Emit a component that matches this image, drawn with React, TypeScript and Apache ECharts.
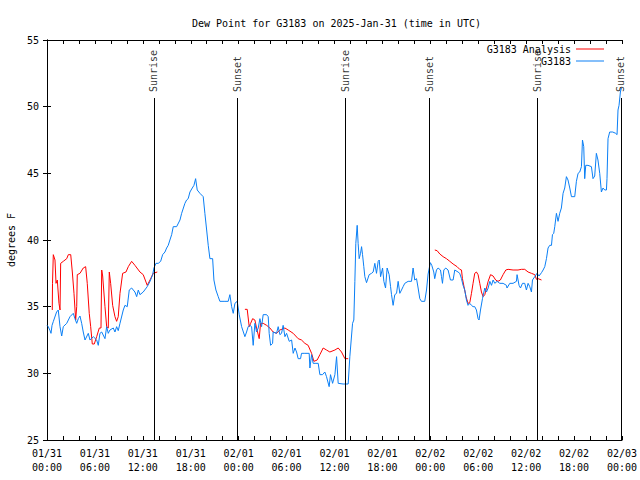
import React, { useEffect, useRef } from "react";
import * as echarts from "echarts";

// Hours since 2025-01-31 00:00 UTC
const blueHours = [
  0.0, 0.16, 0.38, 0.5, 0.63, 0.8, 1.2, 1.41, 1.63, 1.84, 2.04, 2.47, 2.88, 3.29, 3.5, 3.72, 3.92, 4.13, 4.34, 4.54,
  4.76, 5.17, 5.38, 5.8, 6.22, 6.42, 6.63, 6.85, 7.26, 7.47, 7.67, 7.88, 8.3, 8.51, 8.72, 8.92, 9.14, 9.55, 9.76, 10.05,
  10.3, 10.6, 11.01, 11.23, 11.43, 11.64, 12.05, 12.55, 12.9, 13.23, 13.39, 13.64, 13.93, 14.23, 14.48, 14.77, 14.98, 15.18, 15.39, 15.61,
  15.81, 16.23, 16.65, 16.86, 17.27, 17.48, 17.68, 17.9, 18.19, 18.4, 18.61, 18.81, 19.15, 19.56, 19.77, 19.99, 20.19, 20.4, 20.74, 20.9,
  21.15, 21.44, 21.65, 22.28, 22.69, 22.9, 23.12, 23.32, 23.53, 23.82, 24.07, 24.37, 24.78, 24.99, 25.19, 25.41, 25.62, 25.82, 26.03, 26.24,
  26.45, 26.66, 26.87, 27.07, 27.5, 27.7, 27.82, 28.0, 28.25, 28.32, 28.74, 28.95, 29.16, 29.37, 29.57, 29.79, 30.0, 30.33, 30.63, 30.83,
  31.05, 31.25, 31.45, 31.75, 31.87, 32.29, 32.83, 32.92, 33.13, 33.33, 33.67, 33.96, 34.17, 34.5, 34.79, 35.0, 35.33, 35.5, 35.76, 36.05,
  36.26, 36.46, 37.08, 37.71, 37.92, 38.26, 38.42, 38.55, 38.67, 38.84, 38.96, 39.09, 39.26, 39.39, 39.51, 39.67, 39.8, 40.01, 40.34, 40.64,
  40.84, 41.05, 41.26, 41.47, 41.6, 41.77, 42.02, 42.18, 42.39, 42.59, 42.84, 43.02, 43.14, 43.34, 43.55, 43.77, 43.97, 44.18, 44.39, 44.59,
  44.8, 45.22, 45.64, 45.84, 46.05, 46.27, 46.47, 46.68, 46.89, 47.3, 47.52, 47.72, 48.0, 48.18, 48.43, 48.55, 48.77, 48.97, 49.27, 49.4,
  49.52, 49.69, 49.93, 50.22, 50.52, 50.85, 51.06, 51.47, 51.68, 51.9, 52.1, 52.31, 52.52, 52.72, 52.94, 53.15, 53.35, 53.56, 53.77, 53.98,
  54.1, 54.28, 54.53, 54.82, 55.03, 55.24, 55.45, 55.66, 55.86, 56.07, 56.36, 56.7, 57.11, 57.53, 57.6, 57.95, 58.36, 58.78, 58.86, 59.11,
  59.29, 59.54, 59.82, 60.03, 60.24, 60.45, 60.66, 60.79, 61.08, 61.36, 61.61, 61.92, 62.12, 62.33, 62.54, 62.74, 62.95, 63.17, 63.29, 63.45,
  63.58, 63.79, 63.99, 64.2, 64.41, 64.62, 64.83, 65.04, 65.24, 65.46, 65.67, 66.08, 66.29, 66.5, 66.71, 66.92, 67.05, 67.21, 67.33, 67.46,
  67.74, 68.17, 68.37, 68.58, 68.79, 68.99, 69.21, 69.42, 69.62, 69.84, 70.05, 70.12, 70.25, 70.46, 70.84, 71.21, 71.38, 71.5, 71.63, 71.8,
  71.93,
];
const blueValues = [
  33.6, 33.5, 33.2, 33.0, 33.6, 33.9, 34.6, 34.75, 33.5, 32.8, 33.5, 33.75, 34.25, 34.5, 34.1, 33.75, 34.1, 34.3, 33.75, 33.1,
  32.5, 33.0, 32.5, 32.75, 32.5, 32.1, 33.0, 33.1, 32.6, 33.5, 33.0, 33.25, 33.4, 33.1, 33.5, 33.2, 33.75, 34.75, 35.1, 35.0,
  36.25, 36.4, 36.1, 35.75, 36.25, 35.9, 36.1, 36.5, 36.9, 37.4, 37.9, 38.25, 38.25, 38.4, 38.9, 39.1, 39.4, 39.6, 40.0, 40.4,
  41.0, 41.0, 41.5, 42.0, 42.75, 43.0, 43.1, 43.6, 43.9, 44.1, 44.6, 43.75, 43.5, 43.25, 42.0, 40.75, 39.6, 38.6, 38.6, 37.0,
  36.25, 35.75, 35.4, 35.4, 35.4, 35.9, 35.0, 34.5, 35.25, 35.4, 34.4, 33.5, 32.75, 33.1, 33.5, 33.6, 33.5, 32.1, 33.75, 33.1,
  33.4, 34.1, 33.5, 34.4, 34.4, 34.25, 33.0, 32.1, 32.25, 33.1, 33.0, 33.5, 32.9, 33.0, 33.6, 32.75, 33.0, 32.4, 32.5, 31.5,
  31.9, 31.6, 31.1, 31.1, 31.5, 31.5, 31.5, 30.4, 31.4, 30.75, 30.75, 30.75, 29.9, 29.9, 30.1, 29.75, 29.0, 29.9, 29.25, 29.9,
  31.25, 29.25, 29.2, 29.2, 31.25, 33.75, 34.0, 36.9, 39.75, 41.1, 39.75, 38.6, 39.0, 39.5, 38.9, 38.0, 37.25, 36.8, 37.4, 37.5,
  37.6, 38.25, 37.5, 38.4, 38.5, 37.25, 37.9, 36.9, 36.4, 37.9, 37.4, 36.5, 35.9, 35.1, 35.9, 36.0, 36.9, 36.0, 36.25, 36.5,
  36.75, 36.9, 36.9, 37.9, 37.0, 37.1, 36.4, 35.6, 35.4, 35.4, 36.25, 37.45, 38.3, 38.1, 37.6, 37.1, 37.75, 37.9, 37.75, 37.25,
  36.75, 37.75, 37.9, 37.75, 37.0, 37.0, 37.75, 37.6, 37.5, 37.1, 36.6, 36.25, 35.5, 35.1, 35.25, 35.1, 35.0, 35.0, 34.75, 34.1,
  34.0, 34.75, 35.6, 36.4, 36.1, 36.4, 36.9, 36.6, 37.0, 36.75, 36.9, 36.75, 36.75, 36.6, 36.4, 36.75, 36.75, 36.9, 37.4, 36.6,
  36.4, 36.75, 36.75, 36.25, 36.75, 36.5, 36.1, 37.0, 37.25, 37.5, 37.3, 37.55, 37.75, 38.0, 38.6, 39.4, 39.6, 39.6, 40.4, 40.5,
  41.0, 42.0, 41.4, 42.0, 42.4, 43.5, 43.9, 44.75, 44.5, 43.9, 43.25, 43.25, 44.4, 45.0, 45.1, 45.5, 47.5, 47.0, 44.6, 45.6,
  45.6, 45.5, 44.6, 44.8, 46.5, 46.0, 45.0, 43.6, 43.9, 43.75, 43.75, 44.6, 47.6, 48.1, 48.1, 48.0, 47.9, 49.75, 50.1, 51.1,
  51.4,
];

// Analysis series; null marks a gap
const redHours = [
  0.66, 0.69, 0.79, 1.0, 1.13, 1.29, 1.5, 1.63, 1.71, 2.04, 2.47, 2.67, 2.97, 3.17, 3.38, 3.59, 3.72, 3.79, 4.13, 4.54,
  4.84, 5.04, 5.29, 5.47, 5.67, 5.92, 6.22, 6.55, 6.76, 6.85, 6.97, 7.26, 7.47, 7.67, 7.8, 7.97, 8.22, 8.51, 8.72, 8.92,
  9.14, 9.47, 9.89, 10.18, 10.6, 11.01, 11.64, 12.05, 12.55, 12.9, 13.3, 13.81, 19.0,
  24.78, 25.07, 25.32, 25.5, 25.75, 26.03, 26.24, 26.57, 26.74, 27.07, 27.5, 27.91, 28.32, 28.74, 29.16, 29.79, 30.2, 30.83, 31.45, 31.87,
  32.29, 32.7, 33.13, 33.42, 33.83, 34.17, 34.58, 35.0, 35.42, 36.05, 36.46, 36.88, 37.3, 37.71, 43.0,
  48.56, 48.85, 49.19, 49.6, 50.02, 50.44, 50.85, 51.35, 51.68, 51.9, 52.02, 52.25, 52.47, 52.72, 52.94, 53.15, 53.35, 53.56, 53.77, 53.98,
  54.19, 54.4, 54.61, 54.82, 55.03, 55.24, 55.54, 55.86, 56.18, 56.47, 56.77, 57.11, 57.45, 57.74, 58.36, 58.98, 59.41, 59.82, 60.24, 60.66,
  61.08, 61.29, 61.49, 61.92,
];
const redValues = [
  34.75, 36.75, 38.9, 38.5, 36.75, 37.0, 35.25, 34.75, 38.25, 38.4, 38.6, 38.9, 38.9, 37.6, 36.0, 34.0, 35.0, 37.4, 37.5, 37.9,
  38.0, 36.75, 34.5, 33.5, 32.2, 32.2, 32.75, 33.4, 33.4, 37.75, 37.3, 35.0, 33.5, 33.4, 37.6, 36.75, 35.1, 34.25, 33.9, 34.25,
  36.0, 37.5, 37.6, 38.0, 38.4, 38.1, 37.6, 37.4, 36.6, 37.0, 37.5, 37.6, null,
  34.8, 34.8, 33.5, 33.75, 34.1, 34.0, 33.4, 32.6, 33.75, 33.75, 33.6, 33.4, 33.1, 33.0, 33.25, 33.4, 33.25, 33.0, 32.6, 32.5,
  32.25, 32.1, 31.5, 30.9, 31.0, 31.4, 31.9, 31.75, 31.6, 31.75, 31.9, 31.6, 31.1, 31.1, null,
  39.25, 39.2, 38.95, 38.75, 38.6, 38.4, 38.2, 38.0, 37.8, 37.75, 37.1, 36.4, 35.75, 35.25, 35.3, 36.0, 36.75, 37.5, 37.6, 37.4,
  36.75, 36.1, 35.75, 35.9, 36.4, 36.9, 37.4, 37.3, 37.0, 36.9, 37.0, 37.4, 37.75, 37.8, 37.75, 37.75, 37.8, 37.8, 37.6, 37.5,
  37.4, 37.05, 37.1, 37.0,
];

const sunHours = [13.38, 23.82, 37.37, 47.85, 61.36, 71.85];
const sunLabels = ["Sunrise", "Sunset", "Sunrise", "Sunset", "Sunrise", "Sunset"];

const tickDays = ["01/31", "02/01", "02/02", "02/03"];

const FONT = "DejaVu Sans Mono";

export default function App() {
  const ref = useRef<HTMLDivElement>(null);
  useEffect(() => {
    if (!ref.current) return;
    const chart = echarts.init(ref.current, undefined, { renderer: "svg" });
    const pad = (n: number) => (n < 10 ? "0" + n : "" + n);
    const blueData = blueHours.map((h, i) => [h, blueValues[i]]);
    const redData = redHours.map((h, i) => [h, redValues[i]]);
    const axisCommon = {
      min: 0,
      max: 72,
      interval: 2,
      axisLine: { show: true, lineStyle: { color: "#000", width: 1 } },
      axisTick: { show: true, inside: true, length: 4, lineStyle: { color: "#000" } },
      splitLine: { show: false },
    };
    const yCommon = {
      min: 25,
      max: 55,
      interval: 5,
      axisLine: { show: true, lineStyle: { color: "#000", width: 1 } },
      axisTick: { show: true, inside: true, length: 4, lineStyle: { color: "#000" } },
      splitLine: { show: false },
    };
    chart.setOption({
      animation: false,
      backgroundColor: "#fff",
      textStyle: { fontFamily: FONT },
      title: {
        text: "Dew Point for G3183 on 2025-Jan-31 (time in UTC)",
        left: 187,
        top: 13,
        textStyle: { fontFamily: FONT, fontSize: 10, fontWeight: "normal", color: "#000" },
      },
      legend: {
        data: ["G3183 Analysis", "G3183"],
        orient: "vertical",
        right: 31,
        top: 38,
        align: "right",
        icon: "rect",
        itemWidth: 28,
        itemHeight: 1,
        itemGap: 0,
        textStyle: { fontFamily: FONT, fontSize: 10, color: "#000", lineHeight: 12 },
      },
      grid: { left: 47, right: 18, top: 40, bottom: 40, containLabel: false, outerBoundsMode: "none" },
      xAxis: [
        {
          type: "value",
          position: "bottom",
          ...axisCommon,
          axisLabel: {
            show: true,
            margin: 6,
            fontFamily: FONT,
            fontSize: 10,
            color: "#000",
            lineHeight: 14,
            formatter: (v: number) => {
              if (Math.round(v) % 6 !== 0) return "";
              const d = Math.floor(v / 24);
              const hh = Math.round(v - d * 24);
              return tickDays[d] + "\n" + pad(hh) + ":00";
            },
          },
        },
        {
          type: "value",
          position: "top",
          ...axisCommon,
          axisLabel: { show: false },
        },
      ],
      yAxis: [
        {
          type: "value",
          position: "left",
          ...yCommon,
          name: "degrees F",
          nameLocation: "middle",
          nameGap: 31,
          nameRotate: 90,
          nameTextStyle: { fontFamily: FONT, fontSize: 10, color: "#000" },
          axisLabel: { show: true, margin: 8, fontFamily: FONT, fontSize: 10, color: "#000" },
        },
        {
          type: "value",
          position: "right",
          ...yCommon,
          axisLabel: { show: false },
        },
      ],
      series: [
        {
          name: "G3183 Analysis",
          type: "line",
          data: redData,
          showSymbol: false,
          symbol: "none",
          connectNulls: false,
          lineStyle: { color: "#ff0000", width: 1 },
          itemStyle: { color: "#ff0000" },
          z: 3,
        },
        {
          name: "G3183",
          type: "line",
          data: blueData,
          showSymbol: false,
          symbol: "none",
          lineStyle: { color: "#0a7ff5", width: 1 },
          itemStyle: { color: "#0a7ff5" },
          z: 4,
        },
        {
          name: "sun",
          type: "scatter",
          data: sunHours.map((h, i) => ({ value: [h, 51.1], label: { formatter: sunLabels[i] } })),
          symbolSize: 1,
          itemStyle: { color: "rgba(0,0,0,0)" },
          silent: true,
          label: {
            show: true,
            position: "inside",
            rotate: 90,
            align: "left",
            verticalAlign: "middle",
            fontFamily: FONT,
            fontSize: 10,
            color: "#000",
          },
          markLine: {
            silent: true,
            symbol: "none",
            label: { show: false },
            lineStyle: { color: "#000", width: 1, type: "solid" },
            data: sunHours.map((h) => [{ coord: [h, 25] }, { coord: [h, 50.65] }]),
          },
          z: 5,
        },
      ],
    });
    return () => chart.dispose();
  }, []);
  return <div ref={ref} style={{ position: "fixed", left: 0, top: 0, width: 640, height: 480 }} />;
}
